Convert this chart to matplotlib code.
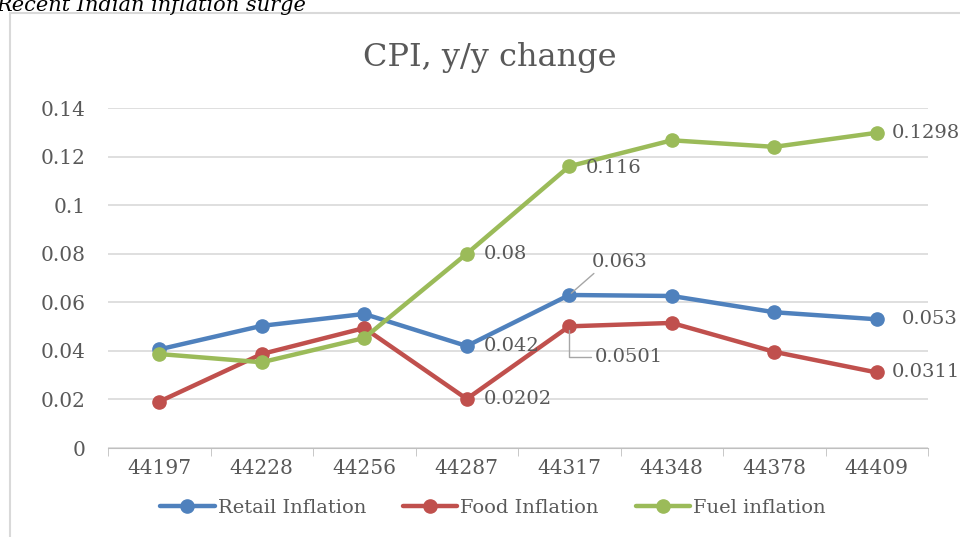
import numpy as np
import matplotlib
matplotlib.use('Agg')
import matplotlib.pyplot as plt
from matplotlib.patches import Rectangle

# Data
dates = ['44197', '44228', '44256', '44287', '44317', '44348', '44378', '44409']
retail = [0.0406, 0.0503, 0.0552, 0.042, 0.063, 0.0626, 0.0559, 0.053]
food = [0.0191, 0.0387, 0.0494, 0.0202, 0.0501, 0.0515, 0.0396, 0.0311]
fuel = [0.0387, 0.0353, 0.0453, 0.08, 0.116, 0.1267, 0.124, 0.1298]
series_names = ['Retail Inflation', 'Food Inflation', 'Fuel inflation']
colours = ['#4F81BD', '#C0504D', '#9BBB59']

fnt = 'DejaVu Serif'
grey = '#595959'

fig = plt.figure(figsize=(9.6, 5.37), dpi=100)
ax = fig.add_axes([108/960, 1 - 448/537, 820/960, 340/537])

x = np.arange(len(dates))
for vals, name, col in zip([retail, food, fuel], series_names, colours):
    ax.plot(x, vals, color=col, linewidth=3.2, marker='o', markersize=9.5,
            label=name, solid_capstyle='round')

ax.set_xlim(-0.5, len(dates) - 0.5)
ax.set_ylim(0, 0.14)
ax.set_yticks(np.arange(0, 0.141, 0.02))
ax.set_yticklabels(['0', '0.02', '0.04', '0.06', '0.08', '0.1', '0.12', '0.14'])
ax.set_xticks(x)
ax.set_xticklabels(dates)
ax.grid(axis='y', color='#D9D9D9', linewidth=1.2)
ax.set_axisbelow(True)
for s in ['top', 'right', 'left']:
    ax.spines[s].set_visible(False)
ax.spines['bottom'].set_color('#BFBFBF')
ax.tick_params(axis='y', length=0, pad=16, labelsize=14.5, labelcolor=grey)
ax.tick_params(axis='x', length=0, pad=8, labelsize=14.5, labelcolor=grey)
for t in ax.get_xticklabels() + ax.get_yticklabels():
    t.set_fontfamily(fnt)
# minor ticks between categories on the x axis
ax.set_xticks(np.arange(-0.5, len(dates), 1), minor=True)
ax.tick_params(axis='x', which='minor', length=6, color='#BFBFBF')

# data labels
lab = dict(fontsize=14, color=grey, family=fnt, va='center')
ax.annotate('0.042', (3, retail[3]), xytext=(12, 0), textcoords='offset points', **lab)
ax.annotate('0.0202', (3, food[3]), xytext=(12, 0), textcoords='offset points', **lab)
ax.annotate('0.08', (3, fuel[3]), xytext=(12, 0), textcoords='offset points', **lab)
ax.annotate('0.116', (4, fuel[4]), xytext=(12, -1), textcoords='offset points', **lab)
ax.annotate('0.063', (4, retail[4]), xytext=(16, 24), textcoords='offset points',
            arrowprops=dict(arrowstyle='-', color='#A6A6A6', lw=1, shrinkA=0, shrinkB=2,
                            relpos=(0.1, 0)), **lab)
ax.annotate('0.0501', (4, food[4]), xytext=(18, -22), textcoords='offset points',
            arrowprops=dict(arrowstyle='-', color='#A6A6A6', lw=1, shrinkA=0, shrinkB=3,
                            connectionstyle='angle,angleA=0,angleB=90', relpos=(0, 0.5)), **lab)
ax.annotate('0.1298', (7, fuel[7]), xytext=(11, 0), textcoords='offset points',
            annotation_clip=False, **lab)
ax.annotate('0.053', (7, retail[7]), xytext=(18, 0), textcoords='offset points',
            annotation_clip=False, **lab)
ax.annotate('0.0311', (7, food[7]), xytext=(11, 0), textcoords='offset points',
            annotation_clip=False, **lab)

fig.text(490/960, 1 - 57/537, 'CPI, y/y change', fontsize=23, color=grey, family=fnt,
         ha='center', va='center')

leg = fig.legend(*ax.get_legend_handles_labels(), loc='center',
                 bbox_to_anchor=(493/960, 1 - 508/537), ncol=3, frameon=False,
                 prop={'family': fnt, 'size': 14}, handlelength=2.8, columnspacing=1.9,
                 handletextpad=0.15)
for t in leg.get_texts():
    t.set_color(grey)

# chart frame and caption
fig.patches.append(Rectangle((10/960, -0.05), 1.0, 1 - 13/537 + 0.05,
                             transform=fig.transFigure, fill=False,
                             edgecolor='#D9D9D9', linewidth=1.5))
fig.text(-0.004, 1.008, 'Recent Indian inflation surge', fontsize=15, style='italic',
         family=fnt, color='black', va='top')

plt.savefig('out.png', dpi=100)
